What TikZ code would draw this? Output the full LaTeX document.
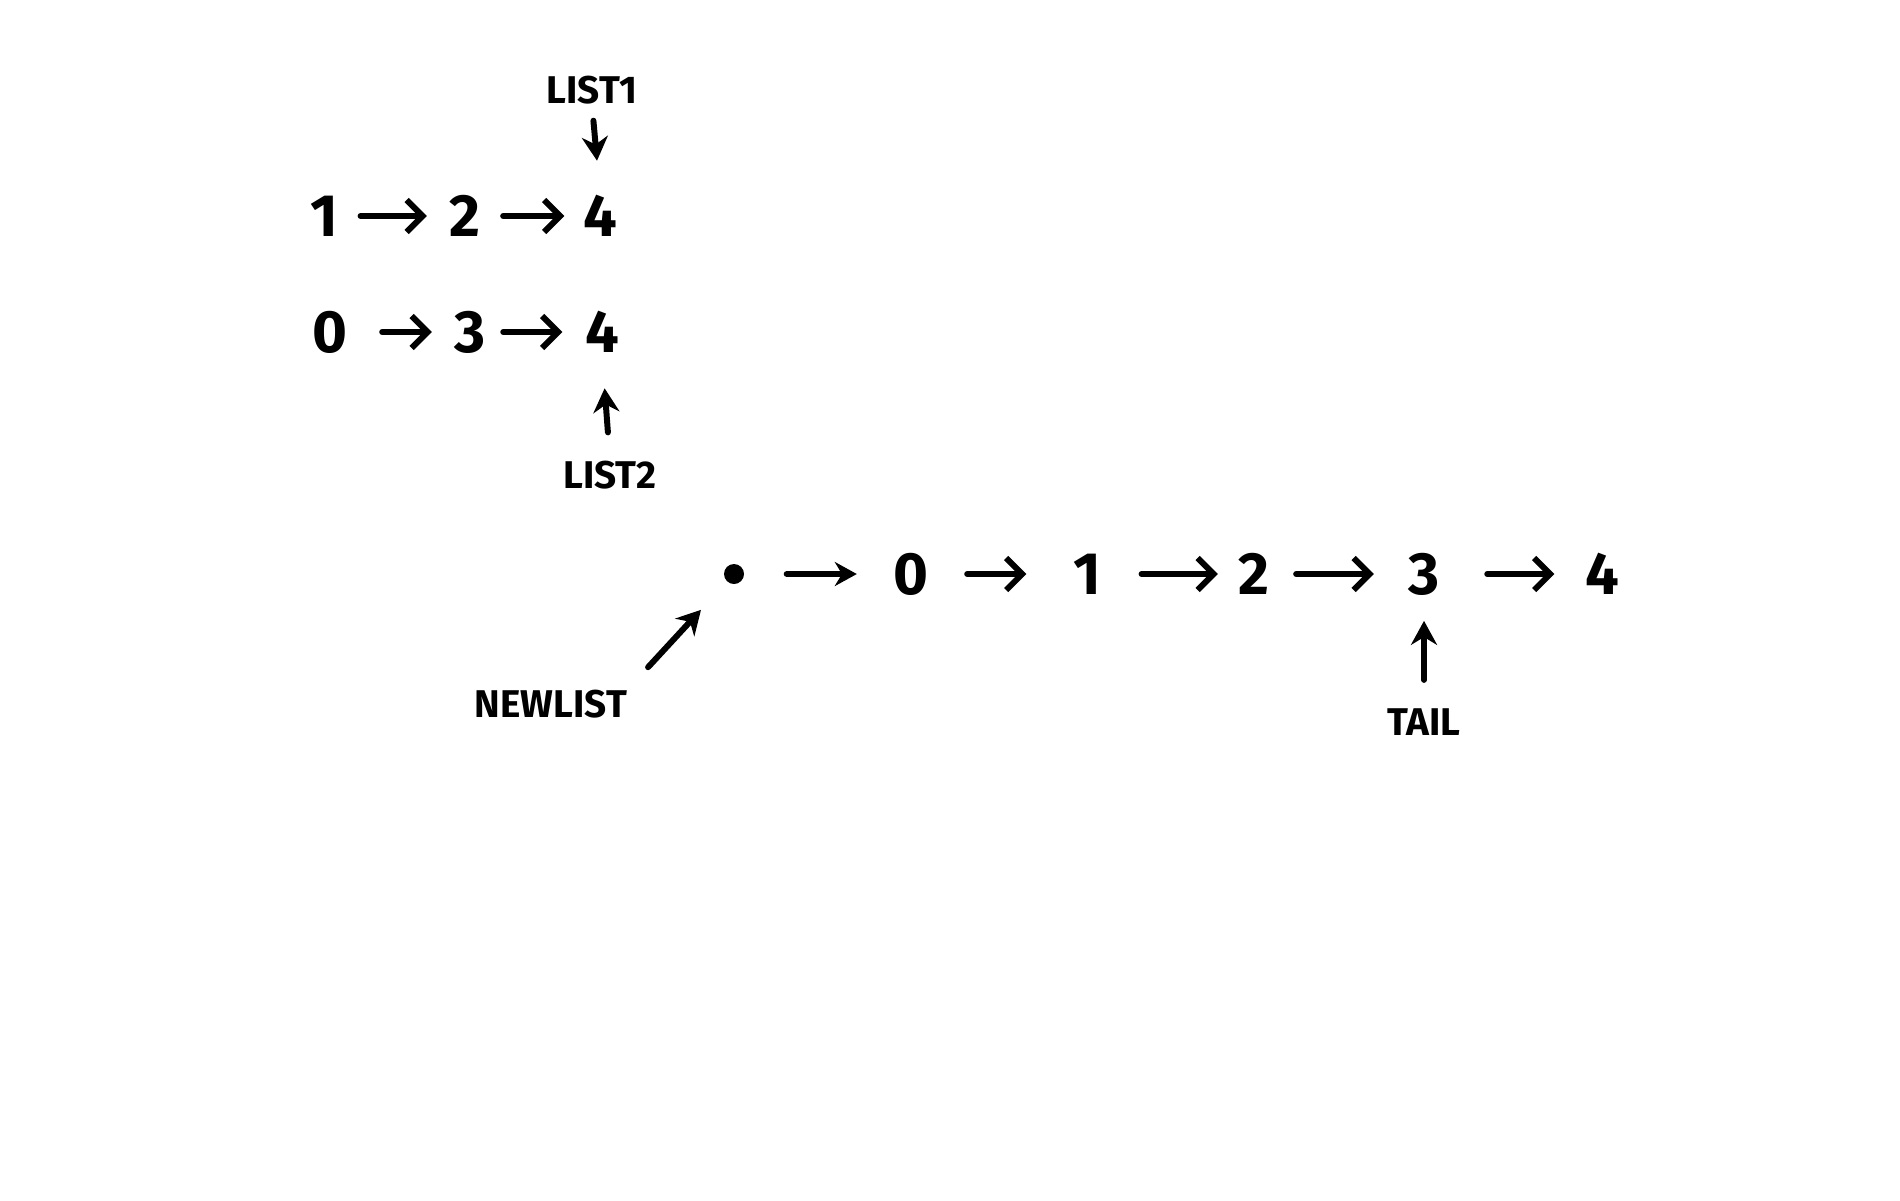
\documentclass[tikz,border=0pt]{standalone}
\usepackage{fontspec}
\setmainfont{Fira Sans}
\usetikzlibrary{arrows.meta}

\begin{document}
\begin{tikzpicture}[>={Straight Barb[length=1.6mm,width=3.2mm]},
  num/.style={inner sep=0pt, font=\fontsize{17}{20}\selectfont\bfseries},
  lbl/.style={inner sep=0pt, font=\fontsize{11}{13}\selectfont\bfseries},
  nxt/.style={->, line width=1.7pt, line cap=round, shorten <=0.22cm, shorten >=0.22cm},
  ptr/.style={-{Stealth[length=2.4mm,width=2.6mm]}, line width=1.7pt, line cap=round}]
  %
  \useasboundingbox (0,0) rectangle (19,-12);

  % the two input lists
  \node[lbl] (list1) at (5.92,-0.90) {LIST1};
  \node[num] (l1a) at (3.24,-2.16) {1};
  \node[num] (l1b) at (4.65,-2.16) {2};
  \node[num] (l1c) at (6.00,-2.16) {4};
  \draw[nxt] (l1a) -- (l1b);
  \draw[nxt, shorten >=0.18cm] (l1b) -- (l1c);
  \draw[ptr, shorten <=0.16cm, shorten >=0.34cm] (list1.south) -- (l1c.north);

  \node[num] (l2a) at (3.30,-3.32) {0};
  \node[num] (l2b) at (4.70,-3.32) {3};
  \node[num] (l2c) at (6.02,-3.32) {4};
  \node[lbl] (list2) at (6.10,-4.75) {LIST2};
  \draw[nxt, shorten <=0.34cm] (l2a) -- (l2b);
  \draw[nxt, shorten <=0.17cm] (l2b) -- (l2c);
  \draw[ptr, shorten <=0.28cm, shorten >=0.35cm] (list2.north) -- (l2c.south);

  % merged list
  \node[circle, fill, inner sep=0pt, minimum size=0.2cm] (dot) at (7.34,-5.74) {};
  \node[num] (n0) at (9.11,-5.74) {0};
  \node[num] (n1) at (10.87,-5.74) {1};
  \node[num] (n2) at (12.54,-5.74) {2};
  \node[num] (n3) at (14.24,-5.74) {3};
  \node[num] (n4) at (16.02,-5.74) {4};
  \draw[nxt, -{Stealth[length=2.2mm,width=2.4mm]}, shorten <=0.42cm, shorten >=0.36cm] (dot) -- (n0);
  \draw[nxt, shorten <=0.38cm, shorten >=0.46cm] (n0) -- (n1);
  \draw[nxt, shorten <=0.40cm, shorten >=0.20cm] (n1) -- (n2);
  \draw[nxt, shorten <=0.26cm, shorten >=0.34cm] (n2) -- (n3);
  \draw[nxt, shorten <=0.47cm, shorten >=0.30cm] (n3) -- (n4);

  \node[lbl] (newlist) at (5.51,-7.04) {NEWLIST};
  \draw[ptr, shorten <=0.30cm, shorten >=0.38cm] (newlist.north east) -- (dot);

  \node[lbl] (tail) at (14.24,-7.22) {TAIL};
  \draw[ptr, shorten <=0.28cm, shorten >=0.25cm] (tail.north) -- (n3.south);

\end{tikzpicture}
\end{document}
